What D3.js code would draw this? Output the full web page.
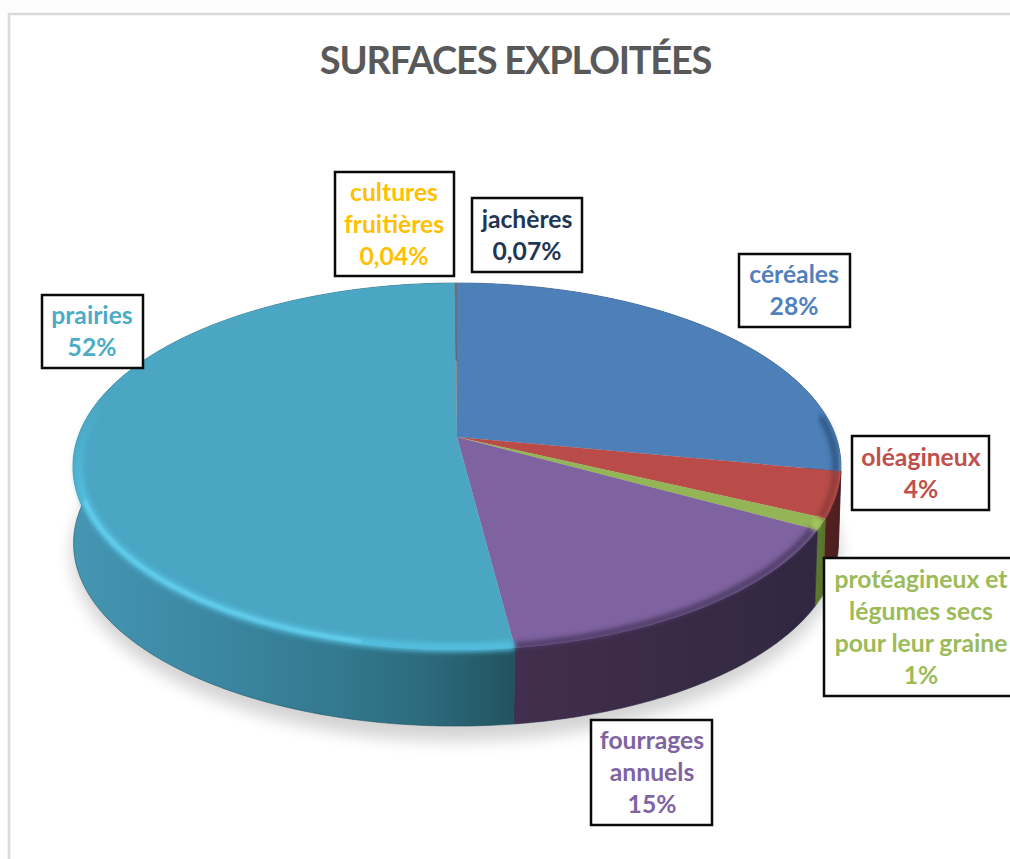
<!DOCTYPE html>
<html><head><meta charset="utf-8">
<script src="https://cdn.jsdelivr.net/npm/d3@7"></script>
<style>html,body{margin:0;padding:0;background:#fff;overflow:hidden}svg{display:block}text{font-family:Lato,"Open Sans",sans-serif;font-weight:700}</style>
</head><body><div id="c"></div>
<script>
const chartTitle = "SURFACES EXPLOITÉES";
const categories = ["céréales","oléagineux","protéagineux et légumes secs pour leur graine","fourrages annuels","prairies","cultures fruitières","jachères"];
const values = [28,4,1,15,52,0.04,0.07];
const valueLabels = ["28%","4%","1%","15%","52%","0,04%","0,07%"];
const labelLines = [["céréales"],["oléagineux"],["protéagineux et","légumes secs","pour leur graine"],["fourrages","annuels"],["prairies"],["cultures","fruitières"],["jachères"]];
const faceColors = ["#4d7fb8","#b94c48","#93b555","#7f62a0","#4aa6c2","#8a8a70","#6a6f78"];
const textColors = ["#4f81bd","#c0504d","#9bbb59","#8064a2","#4bacc6","#ffc000","#1f3654"];
const wallStops = [
  [["#2b4c76",0],["#27466c",1]],
  [["#54201f",0],["#4c1f1f",1]],
  [["#5f7c30",0],["#56702c",1]],
  [["#422e4d",0],["#312741",1]],
  [["#4596b2",0],["#3c88a3",.3],["#33798f",.6],["#2c6a7c",.8],["#22535f",1]],
  [["#888",0],["#888",1]],
  [["#333",0],["#333",1]]
];
const rimColors = ["#2f5580","#8e3a38","#a8cb62","#4c3a63","#52bedf","#888","#333"];
// layout only: label box [left, top, right, bottom, centre x]
const boxes = [[739,254,850,327,794],[852,436,989,510,921],[824,558,1030,696,921],[591,720,712,825,652],[42,295,143,368,92],[335,172,454,276,394],[472,198,582,272,527]];

const W=1010,H=859;
const svg=d3.select("#c").append("svg").attr("width",W).attr("height",H);
const defs=svg.append("defs");
const blur=(id,s)=>defs.append("filter").attr("id",id).attr("x","-20%").attr("y","-20%").attr("width","140%").attr("height","140%").append("feGaussianBlur").attr("stdDeviation",s);
blur("b8",8);blur("b2",2.4);blur("b1",1.8);

// card
svg.append("rect").attr("width",W).attr("height",H).attr("fill","#fdfdfd");
svg.append("rect").attr("x",9).attr("y",14).attr("width",W).attr("height",H).attr("fill","#fff").attr("stroke","#dadada").attr("stroke-width",2.5);

svg.append("text").attr("x",515.5).attr("y",74).attr("text-anchor","middle").attr("font-size",38).attr("letter-spacing",-1.2).attr("fill","#595959").text(chartTitle);

// perspective projection of a tilted disc
const k=0.161;
const sx=d3.scaleLinear().domain([-1,1]).range([457-379,457+379]);
const sy=d3.scaleLinear().domain([-1,1]).range([437-178.8,437+178.8]);
function proj(a,r=1,dy=0,dx=0){
  const ux=Math.sin(a)*r,uy=-Math.cos(a)*r,s=1/(1-k*uy);
  return [sx(ux*s)+dx,sy(uy*s)+dy];
}
const pie=d3.pie().value(d=>d).sort(null).startAngle(0).endAngle(2*Math.PI);
const arcs=pie(values);
const line=d3.line();
const arcPts=(a0,a1,r=1,dy=0,dx=0)=>{
  const n=Math.max(2,Math.ceil((a1-a0)/0.01));
  return d3.range(n+1).map(i=>proj(a0+(a1-a0)*i/n,r,dy,dx));
};
const DEPTH=77,BR=0.996,DX=-1;
const center=proj(0,0);

// ground shadow
svg.append("ellipse").attr("cx",456).attr("cy",553).attr("rx",384).attr("ry",188).attr("fill","#000").attr("opacity",.17).attr("filter","url(#b8)");

// walls
arcs.forEach((d,i)=>{
  const top=arcPts(d.startAngle,d.endAngle),bot=arcPts(d.startAngle,d.endAngle,BR,DEPTH,DX).reverse();
  const xs=top.concat(bot).map(p=>p[0]);
  const id="w"+i;
  const g=defs.append("linearGradient").attr("id",id).attr("gradientUnits","userSpaceOnUse")
    .attr("x1",d3.min(xs)).attr("x2",d3.max(xs)).attr("y1",0).attr("y2",0);
  wallStops[i].forEach(s=>g.append("stop").attr("offset",s[1]).attr("stop-color",s[0]));
  svg.append("path").attr("d",line(top.concat(bot))+"Z").attr("fill",`url(#${id})`).attr("stroke",wallStops[i][wallStops[i].length-1][0]).attr("stroke-width",.6);
});

// top faces
arcs.forEach((d,i)=>{
  const pts=[center].concat(arcPts(d.startAngle,d.endAngle));
  svg.append("path").attr("d",line(pts)+"Z").attr("fill",faceColors[i]);
});

// bevel along the outer rim
const rimG=defs.append("linearGradient").attr("id","rimFade").attr("gradientUnits","userSpaceOnUse")
  .attr("x1",0).attr("x2",0).attr("y1",400).attr("y2",500);
rimG.append("stop").attr("offset",0).attr("stop-color",rimColors[4]).attr("stop-opacity",0);
rimG.append("stop").attr("offset",1).attr("stop-color",rimColors[4]).attr("stop-opacity",1);
arcs.forEach((d,i)=>{
  if(i>4)return;
  const a0=i===0?Math.PI*0.46:d.startAngle;
  svg.append("path").attr("d",line(arcPts(a0,d.endAngle,0.986,1))).attr("fill","none")
    .attr("stroke",i===4?"url(#rimFade)":rimColors[i]).attr("stroke-width",i===4?9:6).attr("filter","url(#b2)");
});
// bright highlight at the front left of the largest slice
const pr=arcs[4];
svg.append("path").attr("d",line(arcPts(pr.startAngle+0.35,pr.startAngle+1.35,0.988,0))).attr("fill","none")
  .attr("stroke","#73def8").attr("stroke-width",2.5).attr("stroke-linecap","round").attr("filter","url(#b1)").attr("opacity",.75);

// labels
arcs.forEach((d,i)=>{
  const [l,t,r,b,cx]=boxes[i];
  const g=svg.append("g");
  g.append("rect").attr("x",l).attr("y",t).attr("width",r-l).attr("height",b-t).attr("fill","#fff").attr("stroke","#0a0a0a").attr("stroke-width",2.5);
  const lines=labelLines[i].concat([valueLabels[i]]);
  const y0=(t+b)/2-(lines.length-1)*16+8.5;
  g.selectAll("text").data(lines).join("text").attr("x",cx).attr("y",(_,j)=>y0+j*32)
    .attr("text-anchor","middle").attr("font-size",24.7).attr("fill",textColors[i]).text(s=>s);
});
</script></body></html>
